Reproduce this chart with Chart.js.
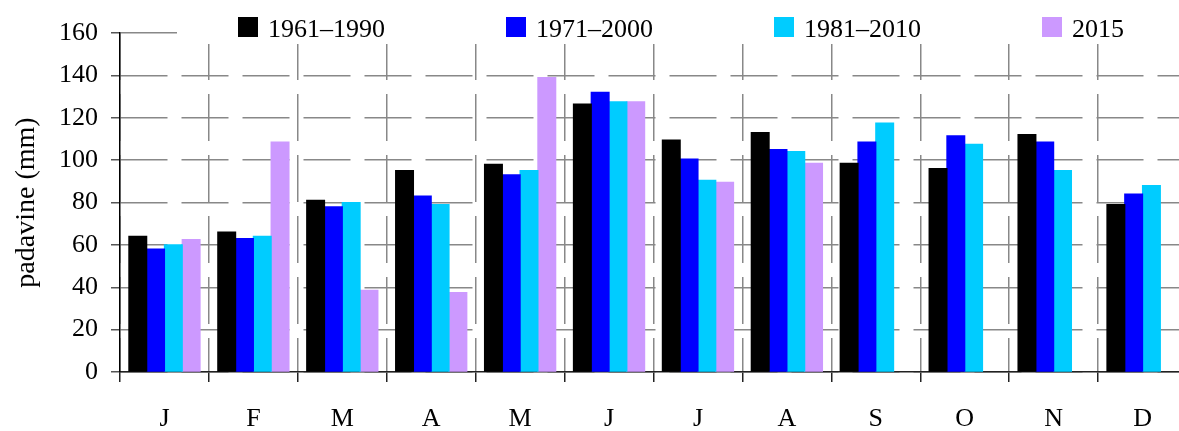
<!DOCTYPE html>
<html>
<head>
<meta charset="utf-8">
<script src="https://cdn.jsdelivr.net/npm/chart.js@4.4.1/dist/chart.umd.min.js"></script>
<style>
    html, body { margin: 0; padding: 0; background: #fff; overflow: hidden; }
    canvas { display: block; }
</style>
</head>
<body>
<canvas id="padavineChart" width="1187" height="431"></canvas>
<script>
// Mjeseci (kategorije)
const months = ['J', 'F', 'M', 'A', 'M', 'J', 'J', 'A', 'S', 'O', 'N', 'D'];

// Nazivi nizova
const seriesLabels = ['1961–1990', '1971–2000', '1981–2010', '2015'];

// Mjesečne padavine (mm)
const avg6190 = [64, 66, 81, 95, 98, 126.5, 109.5, 113, 98.5, 96, 112, 79];
const avg7100 = [58, 63, 78, 83, 93, 132, 100.5, 105, 108.5, 111.5, 108.5, 84];
const avg8110 = [60, 64, 80, 79, 95, 127.5, 90.5, 104, 117.5, 107.5, 95, 88];
const year2015 = [62.5, 108.5, 38.5, 37.5, 139, 127.5, 89.5, 98.5, null, null, null, null];

const seriesColors = ['#000000', '#0000ff', '#00ccff', '#cc99ff'];

// Osa Y
const yMin = 0;
const yMax = 160;
const yStep = 20;

const serif = { family: '"Liberation Serif", "Times New Roman", serif', size: 26 };
const gridDash = [47, 14];

// Legenda gore, sa bijelom pozadinom preko mreže
const topLegend = {
    id: 'topLegend',
    afterDraw(chart) {
        const ctx = chart.ctx;
        ctx.save();
        ctx.fillStyle = '#fff';
        ctx.fillRect(177, 0, chart.width - 177, 44);
        ctx.font = '26px "Liberation Serif", "Times New Roman", serif';
        ctx.textBaseline = 'alphabetic';
        ctx.textAlign = 'left';
        chart.data.datasets.forEach((ds, i) => {
            const x = 238 + i * 268;
            ctx.fillStyle = ds.backgroundColor;
            ctx.fillRect(x, 17, 20, 20);
            ctx.fillStyle = '#000';
            ctx.fillText(ds.label, x + 30, 37);
        });
        ctx.restore();
    }
};

const allSeries = [avg6190, avg7100, avg8110, year2015];

const ctx = document.getElementById('padavineChart').getContext('2d');

new Chart(ctx, {
    type: 'bar',
    data: {
        labels: months,
        datasets: allSeries.map((values, i) => ({
            label: seriesLabels[i],
            data: values,
            backgroundColor: seriesColors[i],
            borderWidth: 0,
            inflateAmount: 0.6,
            categoryPercentage: 0.8,
            barPercentage: 1.0
        }))
    },
    options: {
        responsive: false,
        animation: false,
        layout: {
            padding: { top: 33, right: 0, bottom: 0, left: 0 }
        },
        plugins: {
            legend: { display: false },
            tooltip: { enabled: false }
        },
        scales: {
            x: {
                ticks: {
                    color: '#000',
                    font: serif,
                    padding: 22,
                    maxRotation: 0,
                    autoSkip: false
                },
                grid: {
                    color: '#888',
                    lineWidth: 1.5,
                    tickLength: 10,
                    tickColor: '#222',
                    offset: true
                },
                border: { color: '#222', width: 1.5, dash: gridDash },
                afterFit(scale) { scale.height = 59; }
            },
            y: {
                min: yMin,
                max: yMax,
                ticks: {
                    stepSize: yStep,
                    color: '#000',
                    font: serif,
                    padding: 13
                },
                grid: {
                    color: '#888',
                    lineWidth: 1.5,
                    tickLength: 9,
                    tickColor: '#555'
                },
                border: {
                    color: '#000',
                    width: 1.5,
                    dash: (c) => (c.tick && c.tick.value === yMax ? [] : gridDash)
                },
                title: {
                    display: true,
                    text: 'padavine (mm)',
                    color: '#000',
                    font: { family: serif.family, size: 28 },
                    padding: { top: 10, bottom: 0 }
                },
                afterFit(scale) { scale.width = 120; }
            }
        }
    },
    plugins: [topLegend]
});
</script>
</body>
</html>
